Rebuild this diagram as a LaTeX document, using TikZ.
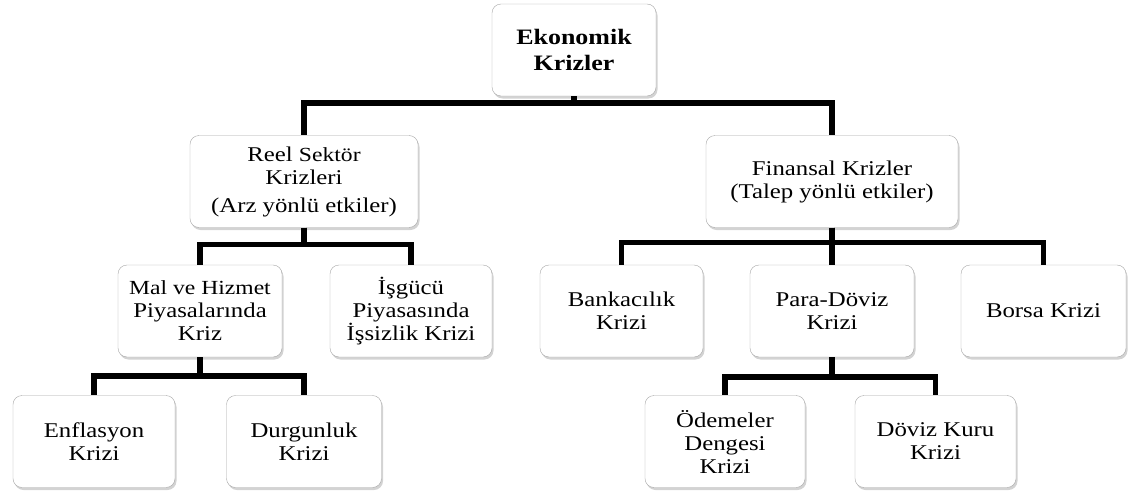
\documentclass[tikz,border=0pt]{standalone}
\usepackage{fontspec}
\setmainfont{Liberation Serif}[FakeStretch=1.18]
\usepackage{tikz}
\usetikzlibrary{shadows}

\begin{document}
\begin{tikzpicture}[x=1pt,y=-1pt,
			main node/.style={
				rectangle, draw=black!35, thin,
				fill=white, text=black, align=center,
				rounded corners=9pt, inner sep=2pt,
				minimum height=92pt,
				drop shadow={opacity=.35,shadow xshift=1.5pt,shadow yshift=-2.5pt},
				font=\fontsize{21}{23}\selectfont},
			bar/.style={line width=5.5pt, black}
			]
			\useasboundingbox (0,0) rectangle (1132,495);
			
			\node[main node,minimum width=164pt,font=\fontsize{22}{26}\selectfont\bfseries] (1) at (574,50)
			{Ekonomik\\Krizler};
			\node[main node,minimum width=228pt] (2) at (304,181.5)
			{Reel {\fontsize{20}{23}\selectfont Sektör}\\{\fontsize{21}{23}\selectfont Krizleri}\\[5pt](Arz yönlü etkiler)};
			\node[main node,minimum width=252pt] (3) at (832,181.5)
			{Finansal {\fontsize{21}{23}\selectfont Krizler}\\(Talep yönlü etkiler)};
			\node[main node,minimum width=164pt] (4) at (200,311)
			{{\fontsize{20}{22}\selectfont Mal ve Hizmet}\\Piyasalarında\\Kriz};
			\node[main node,minimum width=162pt] (5) at (411,311)
			{İşgücü\\Piyasasında\\İşsizlik Krizi};
			\node[main node,minimum width=163pt] (6) at (621.5,311)
			{Bankacılık\\Krizi};
			\node[main node,minimum width=164pt] (7) at (832,311)
			{Para-Döviz\\Krizi};
			\node[main node,minimum width=165pt] (8) at (1043.5,311)
			{Borsa Krizi};
			\node[main node,minimum width=162pt] (9) at (94,441.5)
			{Enflasyon\\Krizi};
			\node[main node,minimum width=155pt] (10) at (304,441.5)
			{Durgunluk\\Krizi};
			\node[main node,minimum width=160pt] (11) at (725,441.5)
			{Ödemeler\\Dengesi\\Krizi};
			\node[main node,minimum width=161pt] (12) at (935.5,441.5)
			{Döviz Kuru\\Krizi};
			
			% tree connectors
			\draw[bar] (1.south) -- ++(0,7) -| (2.north);
			\draw[bar] (1.south) -- ++(0,7) -| (3.north);
			\draw[bar] (2.south) -- ++(0,17) -| (4.north);
			\draw[bar] (2.south) -- ++(0,17) -| (5.north);
			\draw[bar] (3.south) -- ++(0,15) -| (6.north);
			\draw[bar] (3.south) -- (7.north);
			\draw[bar] (3.south) -- ++(0,15) -| (8.north);
			\draw[bar] (4.south) -- ++(0,19) -| (9.north);
			\draw[bar] (4.south) -- ++(0,19) -| (10.north);
			\draw[bar] (7.south) -- ++(0,20) -| (11.north);
			\draw[bar] (7.south) -- ++(0,20) -| (12.north);
		\end{tikzpicture}
\end{document}
